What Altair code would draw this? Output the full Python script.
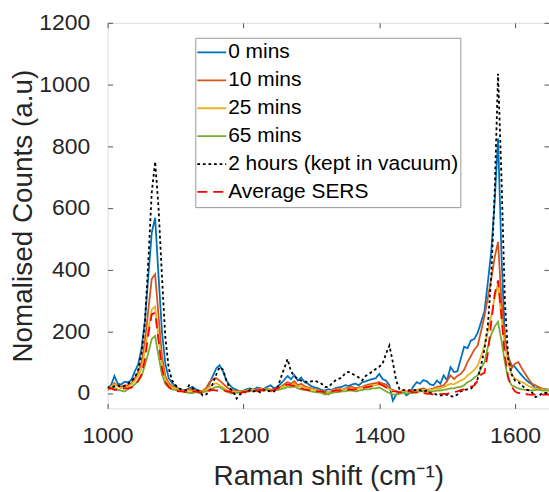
import altair as alt
import pandas as pd

# Raman shift grid (cm^-1)
x_vals = list(range(1000, 1651, 5))

series_names = ["0 mins", "10 mins", "25 mins", "65 mins",
                "2 hours (kept in vacuum)", "Average SERS"]

s0 = [15, 25, 55, 30, 28, 36, 35, 42, 70, 92,
      145, 235, 380, 520, 568, 380, 200, 95, 48, 32,
      22, 12, 8, 10, 15, 20, 12, 8, 5, 10,
      30, 55, 80, 90, 70, 40, 25, 15, 10, 5,
      8, 12, 15, 10, 18, 15, 12, 20, 25, 15,
      20, 30, 42, 55, 45, 58, 40, 50, 35, 30,
      22, 18, 15, 10, 8, 12, 10, 15, 18, 20,
      25, 22, 28, 30, 25, 35, 38, 42, 45, 48,
      62, 45, 40, 25, -25, -5, 3, 5, -8, 0,
      20, 35, 30, 42, 38, 28, 25, 40, 30, 57,
      41, 84, 68, 70, 110, 150, 145, 170, 175, 195,
      230, 265, 360, 460, 620, 826, 450, 180, 115, 90,
      84, 70, 57, 45, 35, 28, 14, 18, 14, 12,
      10]
s10 = [15, 20, 32, 22, 20, 25, 25, 32, 48, 68,
       100, 170, 270, 370, 385, 250, 120, 55, 32, 22,
       18, 12, 10, 8, 12, 10, 8, 5, 8, 15,
       35, 45, 48, 40, 30, 20, 12, 8, 5, 5,
       5, 8, 10, 12, 10, 15, 12, 15, 10, 12,
       15, 20, 28, 35, 30, 38, 25, 30, 22, 18,
       15, 12, 10, 5, 0, -5, 8, 12, 15, 10,
       15, 18, 20, 15, 18, 20, 25, 28, 30, 32,
       35, 30, 28, 15, 10, 5, 0, 8, 5, 5,
       8, 10, 12, 15, 10, 12, 15, 20, 22, 25,
       40, 57, 45, 55, 62, 75, 100, 120, 140, 154,
       200, 250, 310, 370, 440, 490, 300, 170, 120, 80,
       95, 100, 80, 62, 45, 30, 25, 18, 14, 12,
       10]
s25 = [15, 20, 28, 22, 15, 20, 20, 28, 40, 55,
       80, 140, 210, 270, 280, 180, 90, 45, 25, 18,
       15, 10, 8, 5, 8, 5, 5, 3, 5, 10,
       20, 28, 32, 25, 18, 10, 5, 5, 3, 5,
       5, 8, 8, 10, 8, 12, 10, 12, 10, 10,
       12, 18, 22, 28, 25, 30, 20, 22, 18, 15,
       12, 10, 8, 5, 5, 2, 8, 10, 12, 10,
       12, 15, 15, 12, 15, 18, 20, 22, 25, 25,
       28, 25, 20, 12, 8, 5, 3, 5, 5, 5,
       5, 8, 8, 10, 10, 10, 12, 15, 15, 19,
       25, 30, 28, 35, 40, 45, 57, 65, 75, 89,
       120, 154, 200, 250, 310, 355, 240, 150, 100, 60,
       46, 40, 35, 30, 22, 18, 15, 12, 12, 10,
       10]
s65 = [10, 15, 18, 10, 8, 5, 12, 18, 28, 38,
       55, 90, 130, 175, 185, 120, 60, 30, 18, 12,
       10, 8, 5, 3, 0, 0, 2, 0, 2, 5,
       10, 15, 20, 19, 12, 5, 0, -2, 0, 2,
       3, 5, 5, 8, 5, 8, 8, 10, 5, 8,
       10, 12, 15, 20, 18, 22, 15, 12, 10, 8,
       5, 3, 2, 0, -5, -3, 0, 2, 3, 5,
       5, 8, 8, 5, 8, 10, 12, 12, 15, 15,
       18, 12, 5, 0, -5, -5, -3, 0, -2, 0,
       0, 2, 5, 5, 3, 5, 5, 8, 8, 10,
       12, 15, 15, 18, 20, 25, 35, 40, 50, 57,
       80, 100, 150, 190, 215, 231, 170, 100, 45, 25,
       20, 15, 12, 10, 10, 8, 10, 10, 8, 8,
       8]
s2h = [20, 15, 22, 25, 20, 22, 30, 38, 50, 75,
       130, 230, 430, 650, 750, 600, 380, 180, 80, 40,
       25, 15, 10, 8, 25, 15, 10, 5, -8, -5,
       5, 30, 60, 84, 75, 40, 15, 5, -18, -5,
       5, 0, 10, 5, 8, 2, 10, 5, 8, 5,
       15, 48, 80, 110, 70, 55, 45, 40, 38, 35,
       38, 40, 35, 30, 20, 19, 30, 40, 46, 50,
       65, 68, 62, 57, 50, 41, 55, 62, 70, 78,
       85, 95, 127, 154, 100, 40, 12, 10, 8, 9,
       8, 10, 9, 5, 8, 0, -2, -5, -8, -8,
       -5, -10, -12, -5, 5, 9, 12, 14, 25, 46,
       90, 143, 220, 380, 650, 1035, 700, 300, 110, 60,
       40, 35, 25, 14, 8, 2, -13, -10, 0, 0,
       0]
savg = [15, 15, 10, 10, 12, 15, 15, 18, 25, 40,
        60, 110, 190, 255, 260, 170, 80, 35, 20, 10,
        8, 5, 5, 3, 2, 5, 5, 3, 2, 5,
        8, 10, 8, 8, 10, 5, 5, 0, 0, 0,
        3, 5, 5, 8, 8, 10, 8, 5, 8, 10,
        15, 20, 25, 28, 25, 22, 18, 15, 12, 10,
        8, 5, 5, 5, 3, 0, 5, 8, 8, 8,
        10, 12, 10, 12, 12, 15, 18, 20, 22, 25,
        30, 25, 18, 10, 5, 5, 2, 3, 5, 5,
        3, 2, 0, 0, -2, -3, -5, -4, -4, -3,
        -3, 0, 3, 5, 9, 12, 15, 20, 25, 40,
        60, 65, 130, 230, 320, 365, 250, 120, 50, 20,
        5, 0, 0, -3, -5, -5, -5, -5, -5, -5,
        -5]

all_series = [s0, s10, s25, s65, s2h, savg]

x_ticks = [1000, 1200, 1400, 1600]
y_ticks = [0, 200, 400, 600, 800, 1000, 1200]

colors = ["#0072BD", "#D95319", "#EDB120", "#77AC30", "#000000", "#FF0000"]
dashes = [[1, 0], [1, 0], [1, 0], [1, 0], [2.8, 2.8], [10, 6]]
widths = [1.8, 1.8, 1.8, 1.8, 2.8, 3.2]

rows = []
for name, ys in zip(series_names, all_series):
    for xv, yv in zip(x_vals, ys):
        rows.append({"shift": xv, "counts": yv, "series": name})
df = pd.DataFrame(rows)

FONT = "Liberation Sans"
xscale = alt.Scale(domain=[1000, 1650], nice=False, zero=False)
yscale = alt.Scale(domain=[-50, 1200], nice=False, zero=False)

legend = alt.Legend(
    title=None, orient="none", legendX=88, legendY=15,
    strokeColor="#9a9a9a", fillColor="white", padding=1,
    labelFontSize=21, labelFont=FONT, labelColor="#000000", labelLimit=400,
    symbolType="stroke", symbolSize=841, symbolStrokeWidth=1.6,
    clipHeight=27.5, rowPadding=0, labelOffset=1,
)

lines = alt.Chart(df).mark_line(clip=True).encode(
    x=alt.X("shift:Q", scale=xscale,
            axis=alt.Axis(values=x_ticks, format="d", orient="bottom", offset=-5, tickSize=5,
                          domain=False, labelPadding=16, labelFontSize=23, labelFlush=False,
                          labelColor="#262626", tickColor="#555555",
                          title="Raman shift (cm⁻¹)", titleFontSize=28,
                          titleFontWeight="normal", titleColor="#262626",
                          titlePadding=15, grid=False, labelFont=FONT, titleFont=FONT)),
    y=alt.Y("counts:Q", scale=yscale,
            axis=alt.Axis(values=y_ticks, format="d", orient="left", offset=-5, tickSize=5,
                          domain=False, labelPadding=18, labelFontSize=23, labelFlush=False,
                          labelColor="#262626", tickColor="#555555",
                          title="Nomalised Counts (a.u)", titleFontSize=28,
                          titleFontWeight="normal", titleColor="#262626",
                          titlePadding=1, grid=False, labelFont=FONT, titleFont=FONT)),
    color=alt.Color("series:N", scale=alt.Scale(domain=series_names, range=colors),
                    legend=legend),
    strokeDash=alt.StrokeDash("series:N", scale=alt.Scale(domain=series_names, range=dashes),
                              legend=legend),
    strokeWidth=alt.StrokeWidth("series:N", scale=alt.Scale(domain=series_names, range=widths),
                                legend=None),
)

frame_ticks = alt.Chart(df).mark_point(opacity=0).encode(
    x=alt.X("shift:Q", scale=xscale,
            axis=alt.Axis(values=x_ticks, orient="top", offset=-5, tickSize=5,
                          domain=False, labels=False, title=None, grid=False,
                          tickColor="#555555")),
    y=alt.Y("counts:Q", scale=yscale,
            axis=alt.Axis(values=y_ticks, orient="right", offset=-5, tickSize=5,
                          domain=False, labels=False, title=None, grid=False,
                          tickColor="#555555")),
)

chart = alt.layer(lines, frame_ticks).resolve_axis(
    x="independent", y="independent"
).properties(
    width=443, height=387,
    autosize=alt.AutoSizeParams(type="none"),
    padding={"left": 108, "top": 22, "right": 0, "bottom": 83},
).configure_view(
    stroke="#8a8a8a", strokeWidth=1
).configure(background="white")

chart.save("out.html", embed_options={"renderer": "svg", "actions": False})
